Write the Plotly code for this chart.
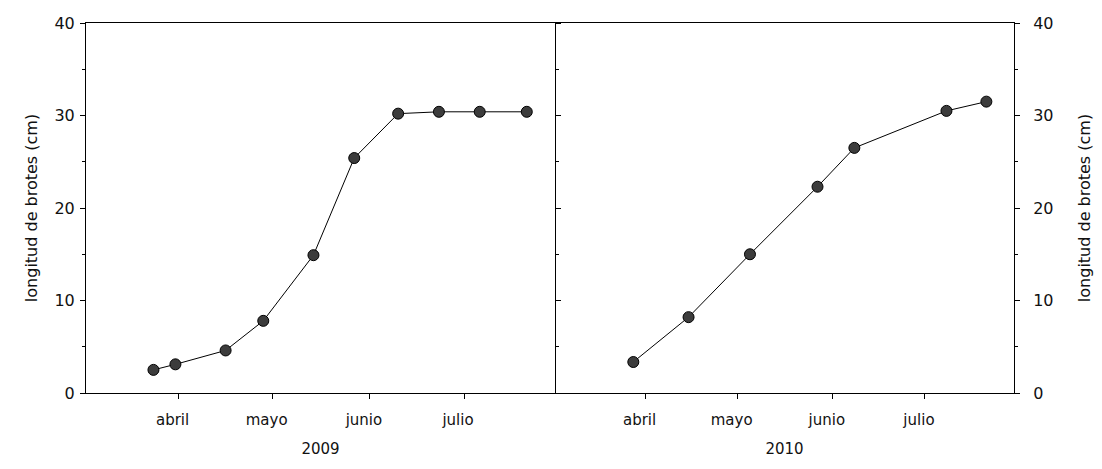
import plotly.graph_objects as go

# --- data ---
fechas_2009 = ['2009-03-24', '2009-03-31', '2009-04-16', '2009-04-28', '2009-05-14',
               '2009-05-27', '2009-06-10', '2009-06-23', '2009-07-06', '2009-07-21']
longitud_2009 = [2.5, 3.1, 4.6, 7.8, 14.9, 25.4, 30.2, 30.4, 30.4, 30.4]

fechas_2010 = ['2010-03-28', '2010-04-15', '2010-05-05', '2010-05-27', '2010-06-08',
               '2010-07-08', '2010-07-21']
longitud_2010 = [3.35, 8.2, 15.0, 22.3, 26.5, 30.5, 31.5]

meses = ['abril', 'mayo', 'junio', 'julio']
ticks_2009 = ['2009-04-01', '2009-05-01', '2009-06-01', '2009-07-01']
ticks_2010 = ['2010-04-01', '2010-05-01', '2010-06-01', '2010-07-01']
y_ticks = [0, 10, 20, 30, 40]
y_titulo = 'longitud de brotes (cm)'

FONT = 'DejaVu Sans'
fig = go.Figure()

marker = dict(size=11, color='#3c3c3c', line=dict(color='black', width=1))
fig.add_trace(go.Scatter(x=fechas_2009, y=longitud_2009, mode='lines+markers',
                         line=dict(color='black', width=1), marker=marker,
                         xaxis='x', yaxis='y', showlegend=False))
fig.add_trace(go.Scatter(x=fechas_2010, y=longitud_2010, mode='lines+markers',
                         line=dict(color='black', width=1), marker=marker,
                         xaxis='x2', yaxis='y2', showlegend=False))

split = 0.5054
common_x = dict(type='date', showline=True, linecolor='black', linewidth=1, mirror=True,
                ticks='outside', ticklen=5, tickcolor='black', showgrid=False, zeroline=False,
                ticklabelstandoff=8, ticklabelshift=-6,
                tickfont=dict(family=FONT, size=15, color='#111'),
                title_font=dict(family=FONT, size=15, color='#111'), title_standoff=15)
common_y = dict(range=[0, 40], tickvals=y_ticks, showline=True, linecolor='black', linewidth=1,
                ticks='outside', ticklen=5, tickcolor='black',
                minor=dict(dtick=5, ticks='outside', ticklen=3, tickcolor='black'),
                showgrid=False, zeroline=False,
                tickfont=dict(family=FONT, size=16, color='#111'))

fig.update_layout(
    width=1102, height=469,
    margin=dict(l=86, r=88, t=23, b=76),
    paper_bgcolor='white', plot_bgcolor='white',
    xaxis=dict(domain=[0, split], anchor='y', range=['2009-03-02 12:00', '2009-07-30'],
               tickvals=ticks_2009, ticktext=meses, title=dict(text='2009'), **common_x),
    xaxis2=dict(domain=[split, 1], anchor='y2', range=['2010-03-02 12:00', '2010-07-30'],
                tickvals=ticks_2010, ticktext=meses, title=dict(text='2010'), **common_x),
    yaxis=dict(domain=[0, 1], anchor='x', side='left', mirror='ticks', ticklabelstandoff=2,
               title=dict(text=y_titulo, font=dict(family=FONT, size=16, color='#111'), standoff=12),
               **common_y),
    yaxis2=dict(domain=[0, 1], anchor='x2', side='right', mirror=False, ticklabelstandoff=10,
                title=dict(text=y_titulo, font=dict(family=FONT, size=16, color='#111'), standoff=26),
                **common_y),
)

fig.write_html('out.html')
